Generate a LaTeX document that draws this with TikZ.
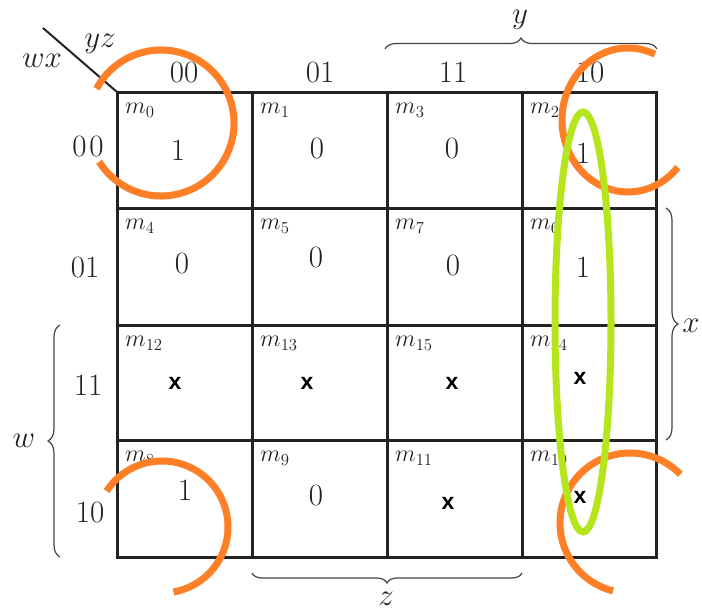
\RequirePackage{fix-cm}
\documentclass[tikz,border=0pt]{standalone}
\usepackage{fontspec}
\newfontfamily\xsans{Liberation Sans}
\usetikzlibrary{decorations.pathreplacing}
\definecolor{kor}{RGB}{255,127,39}
\definecolor{kgr}{RGB}{181,230,29}
\definecolor{kink}{RGB}{35,35,35}
\tikzset{
  big/.style={inner sep=0pt, font=\fontsize{31}{37}\selectfont, text=kink},
  mlab/.style={inner sep=0pt, anchor=north west, font=\fontsize{24}{28}\selectfont, text=kink},
  xmark/.style={inner sep=0pt, font=\xsans\bfseries\fontsize{23}{27}\selectfont, text=black},
  gridline/.style={line width=3pt, draw=kink},
  kbrace/.style={decorate, decoration={brace, amplitude=#1}, line width=1.2pt, draw=kink!85},
  oloop/.style={line width=7pt, draw=kor},
  gloop/.style={line width=7pt, draw=kgr}
}
\begin{document}
\begin{tikzpicture}[x=1pt, y=-1pt]
\fill[white] (0,0) rectangle (702,611);
\useasboundingbox (0,0) rectangle (702,611);

% grid
\coordinate (tl) at (117,92);
\coordinate (br) at (656,557);
\draw[gridline] (tl) rectangle (br);
\foreach \gx in {252,387,522} \draw[gridline] (\gx,92) -- (\gx,557);
\foreach \gy in {208,325,440} \draw[gridline] (117,\gy) -- (656,\gy);

% corner diagonal and variable labels
\coordinate (dg) at (43,28);
\draw[line width=2pt, draw=kink] (dg) -- (tl);
\node[big] (lyz) at (100,44) {$yz$};
\node[big] (lwx) at (42,61) {$wx$};

% column headers
\node[big] (h00) at (184,72) {00};
\node[big] (h01) at (320,72) {01};
\node[big] (h11) at (453,72) {11};
\node[big] (h10) at (590,72) {10};

% row headers
\node[big] (r00) at (88,146) {0\kern3pt0};
\node[big] (r01) at (85,267) {01};
\node[big] (r11) at (88,385) {11};
\node[big] (r10) at (90,512) {10};

% minterm labels
\foreach \mi/\cx/\ry in {0/117/92, 1/252/92, 3/387/92, 2/522/92,
                        4/117/208, 5/252/208, 7/387/208, 6/522/208,
                        12/117/325, 13/252/325, 15/387/325, 14/522/325,
                        8/117/440, 9/252/440, 11/387/440, 10/522/440}
  \node[mlab] (m\mi) at (\cx+8,\ry+11) {$m_{\mi}$};

% cell values
\node[big] (v0) at (178,150) {1};
\node[big] (v1) at (317,148) {0};
\node[big] (v3) at (452,148) {0};
\node[big] (v2) at (583,153) {1};
\node[big] (v4) at (182,263) {0};
\node[big] (v5) at (316,257) {0};
\node[big] (v7) at (453,265) {0};
\node[big] (v6) at (583,267) {1};
\node[xmark] (v12) at (175,383) {x};
\node[xmark] (v13) at (307,383) {x};
\node[xmark] (v15) at (452,383) {x};
\node[xmark] (v14) at (580,378) {x};
\node[big] (v8) at (185,490) {1};
\node[big] (v9) at (316,495) {0};
\node[xmark] (v11) at (448,503) {x};
\node[xmark] (v10) at (580,497) {x};

% braces
\coordinate (by1) at (385,49);
\coordinate (by2) at (657,49);
\draw[kbrace=11pt] (by1) -- (by2);
\node[big] (ly) at (520,20) {$y$};
\coordinate (bx1) at (666,208);
\coordinate (bx2) at (666,440);
\draw[kbrace=12pt] (bx1) -- (bx2);
\node[big] (lx) at (691,326) {$x$};
\coordinate (bw1) at (60,557);
\coordinate (bw2) at (60,325);
\draw[kbrace=12pt] (bw1) -- (bw2);
\node[big] (lw) at (24,441) {$w$};
\coordinate (bz1) at (522,573);
\coordinate (bz2) at (252,573);
\draw[kbrace=10pt] (bz1) -- (bz2);
\node[big] (lz) at (386,599) {$z$};

% groupings
\draw[oloop] (161,123) ++(-152:73) arc[start angle=-152, end angle=148, radius=73];
\draw[oloop] (628,120) ++(-66:66 and 72) arc[start angle=-66, end angle=-319, x radius=66, y radius=72];
\draw[oloop] (162,527) ++(-147:66) arc[start angle=-147, end angle=80, radius=66];
\draw[oloop] (630,523) ++(-44:70) arc[start angle=-44, end angle=-256, radius=70];
\draw[gloop] (583,322) ellipse [x radius=28, y radius=210];
\end{tikzpicture}
\end{document}
